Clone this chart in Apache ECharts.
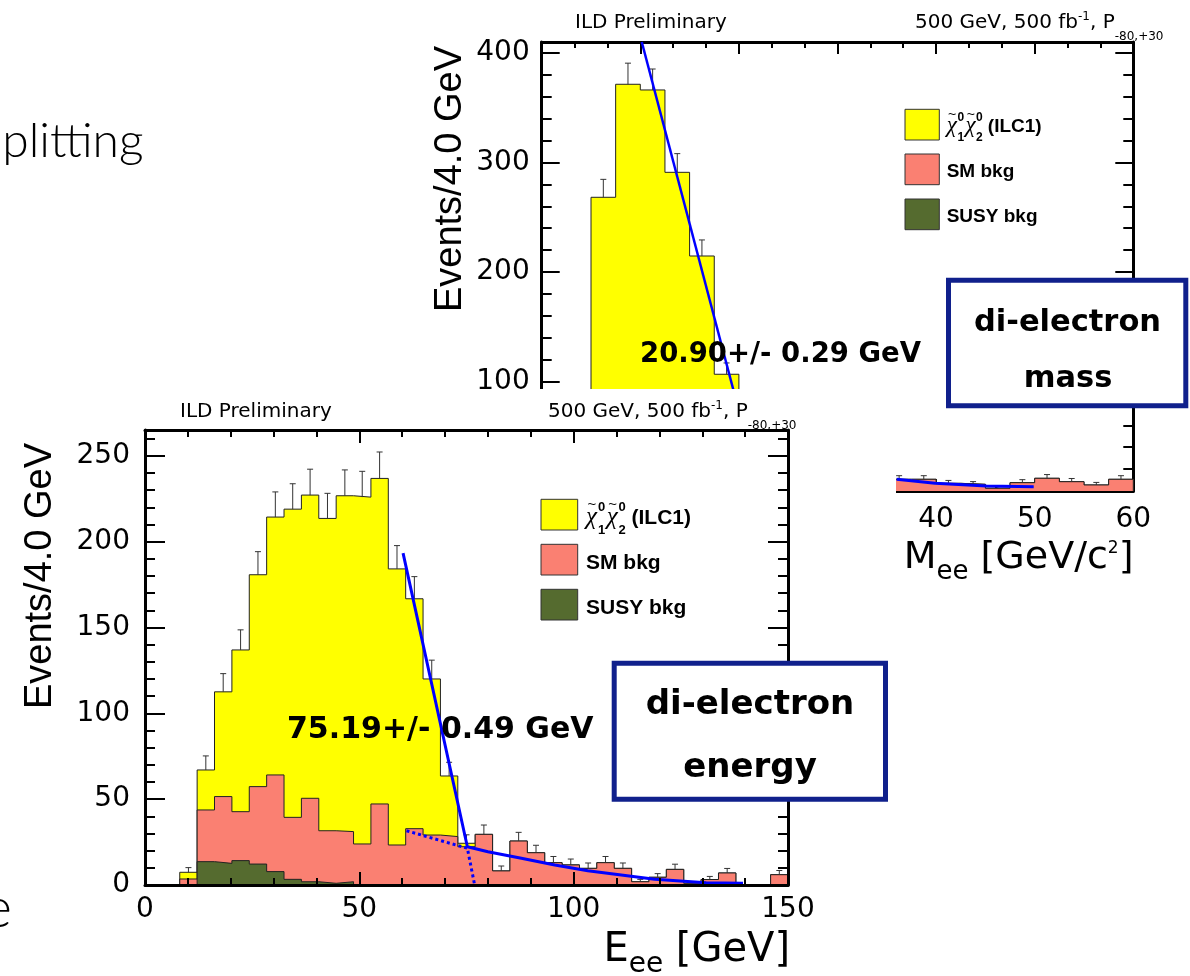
<!DOCTYPE html>
<html>
<head>
<meta charset="utf-8">
<script src="https://cdn.jsdelivr.net/npm/echarts@6/dist/echarts.min.js"></script>
<style>
  html, body { margin: 0; padding: 0; background: #ffffff; }
  #chart { width: 1190px; height: 976px; }
</style>
</head>
<body>
<div id="chart"></div>
<script>
// ---------------- di-electron energy: 37 bins over 0–150 GeV ----------------
const EE_MIN = 0, EE_MAX = 150, EE_NBINS = 37;
// cumulative stack heights per bin (signal+SM+SUSY, SM+SUSY, SUSY)
const eeStackTotal = [0, 0, 7.4, 67.0, 112.5, 136.9, 180.7, 214.3, 218.9, 227.1, 213.5, 226.7, 225.9,
  236.8, 184.1, 166.7, 120.0, 63.5, 24.3, 29.5, 8.2, 25.6, 18.8, 13.0, 11.7, 9.7, 13.0, 9.7, 1.9,
  4.5, 9.1, 1.0, 3.2, 7.0, 0, 0, 6.0];
const eeStackBkg = [0, 0, 3.5, 43.7, 51.5, 42.7, 57.3, 64.1, 39.4, 50.5, 31.6, 31.1, 23.9,
  47.2, 23.3, 32.8, 29.1, 28.2, 22.3, 29.5, 8.2, 25.6, 18.8, 13.0, 11.7, 9.7, 13.0, 9.7, 1.9,
  4.5, 9.1, 1.0, 3.2, 7.0, 0, 0, 6.0];
const eeStackSusy = [0, 0, 0, 13.6, 12.6, 14.2, 12.2, 7.8, 3.3, 1.9, 1.0, 1.9, 0,
  0, 0, 0, 0, 0, 0, 0, 0, 0, 0, 0, 0, 0, 0, 0, 0, 0, 0, 0, 0, 0, 0, 0, 0];
// edge fit: full function and its separate components
const eeFitCurve = [[60.2, 193.3], [75.2, 22.3], [80.0, 19.4], [87.8, 15.6], [95.6, 11.7],
  [103.3, 8.3], [111.1, 5.8], [118.9, 3.3], [130.9, 1.3], [139.5, 1.0]];
const eeFitParts = [[61.0, 31.6], [75.2, 21.4], [76.9, 0]];
const eeXTickStep = 50, eeYTickStep = 50, eeYMinorStep = 10, eeYMax = 265;

// ---------------- di-electron mass: 2.5 GeV bins over 0–60 GeV ----------------
const MEE_MIN = 0, MEE_MAX = 60, MEE_BIN = 2.5;
const meeStackTotal = [null, null, 268.2, 371.4, 366.2, 291.0, 214.6, 106.6,
  null, null, null, null, null, null,
  10.7, 10.7, 7.0, 6.1, 2.5, 7.6, 11.6, 8.5, 5.5, 10.7];
const meeStackBkg = [null, null, null, null, null, null, null, null,
  null, null, null, null, null, null,
  10.7, 10.7, 7.0, 6.1, 2.5, 7.6, 11.6, 8.5, 5.5, 10.7];
const meeFitEdge = [[10.15, 410], [19.45, 92]];
const meeFitTail = [[36.0, 10.7], [39.9, 7.0], [45.1, 4.6], [49.9, 3.9]];
const meeXTickStep = 10, meeYTickStep = 100, meeYMinorStep = 20, meeYMax = 410;

// ---------------- labels ----------------
const legendNames = ['SM bkg', 'SUSY bkg'];
const fillColors = ['#ffff00', '#fa8072', '#556b2f'];

const SANS = '"DejaVu Sans"';
const HELV = '"Liberation Sans"';
const BOLD = '"DejaVu Sans"';

// contiguous runs of a binned histogram turned into closed step outlines
function stepRuns(values, x0, width) {
  const runs = [];
  let cur = null;
  values.forEach((v, i) => {
    if (v == null) { cur = null; return; }
    if (!cur) { cur = [[x0 + i * width, 0]]; runs.push(cur); }
    cur.push([x0 + i * width, v]);
    if (i === values.length - 1 || values[i + 1] == null) {
      cur.push([x0 + (i + 1) * width, v]);
      cur.push([x0 + (i + 1) * width, 0]);
    }
  });
  return runs;
}

function histSeries(values, x0, width, color, xi, yi, z) {
  return stepRuns(values, x0, width).map(pts => ({
    type: 'line', xAxisIndex: xi, yAxisIndex: yi, data: pts, step: 'end',
    symbol: 'none', showSymbol: false, z, silent: true, animation: false,
    lineStyle: { color: '#222', width: 1 },
    areaStyle: { color, opacity: 1, origin: 'start' }
  }));
}

// Poisson uncertainty drawn above each bin top
function errorSeries(values, x0, width, xi, yi, z) {
  const data = [];
  values.forEach((v, i) => {
    if (v != null && v > 0) data.push([x0 + (i + 0.5) * width, v, Math.sqrt(v)]);
  });
  return {
    type: 'custom', xAxisIndex: xi, yAxisIndex: yi, z, silent: true, animation: false,
    encode: { x: 0, y: 1 }, data,
    renderItem(params, api) {
      const x = api.value(0), y = api.value(1), e = api.value(2);
      const p0 = api.coord([x, y]);
      const p1 = api.coord([x, y + e]);
      const st = { stroke: '#333', lineWidth: 1 };
      return {
        type: 'group', children: [
          { type: 'line', shape: { x1: p0[0], y1: p0[1], x2: p1[0], y2: p1[1] }, style: st },
          { type: 'line', shape: { x1: p1[0] - 3, y1: p1[1], x2: p1[0] + 3, y2: p1[1] }, style: st }
        ]
      };
    }
  };
}

function fitSeries(pts, xi, yi, z, width, dash) {
  return {
    type: 'line', xAxisIndex: xi, yAxisIndex: yi, data: pts, symbol: 'none', showSymbol: false,
    z, silent: true, animation: false, clip: true,
    lineStyle: { color: '#0000ff', width, type: dash || 'solid' }
  };
}

// ---------------- axes ----------------
const TICK = { color: '#000', width: 2 };
function xAxes(grid, min, max, step, zz, bottomMinorSplit, topMinorSplit, majorLen, minorLen, labelMargin) {
  const common = {
    type: 'value', gridIndex: grid, min, max, interval: step, z: zz,
    splitLine: { show: false },
    axisLine: { show: true, onZero: false, lineStyle: { color: '#000', width: 3 } },
    axisTick: { show: true, inside: true, length: majorLen, lineStyle: TICK }
  };
  return [
    Object.assign({}, common, {
      position: 'bottom',
      minorTick: { show: true, splitNumber: bottomMinorSplit, length: minorLen, lineStyle: TICK },
      axisLabel: { show: true, margin: labelMargin, color: '#000', fontSize: 28, fontFamily: SANS }
    }),
    Object.assign({}, common, {
      position: 'top',
      minorTick: { show: true, splitNumber: topMinorSplit, length: minorLen, lineStyle: TICK },
      axisLabel: { show: false }
    })
  ];
}

// frame sides with major ticks (left one labelled)
function yMajorAxes(grid, max, step, zz, len, labelMargin) {
  const base = { type: 'value', gridIndex: grid, min: 0, max, interval: step, z: zz, splitLine: { show: false },
    axisLine: { show: true, onZero: false, lineStyle: { color: '#000', width: 3 } },
    axisTick: { show: true, inside: true, length: len, lineStyle: TICK } };
  return [
    Object.assign({}, base, { position: 'left',
      axisLabel: { show: true, margin: labelMargin, color: '#000', fontSize: 28, fontFamily: SANS,
        formatter: v => (v % step === 0 ? String(v) : '') } }),
    Object.assign({}, base, { position: 'right', axisLabel: { show: false } })
  ];
}

// short ticks on both sides, on a twin grid of the same size
function yMinorAxes(grid, max, step, zz, len) {
  const base = { type: 'value', gridIndex: grid, min: 0, max, interval: step, z: zz, splitLine: { show: false },
    axisLine: { show: false }, axisLabel: { show: false },
    axisTick: { show: true, inside: true, length: len, lineStyle: TICK } };
  return [Object.assign({}, base, { position: 'left' }), Object.assign({}, base, { position: 'right' })];
}

function hiddenX(grid, min, max) {
  return { type: 'value', gridIndex: grid, min, max, show: false };
}

// ---------------- legend / text helpers ----------------
function legendBlock(boxX, boxW, boxH, boxTops, textX, rowY, fs, zz) {
  const els = [];
  boxTops.forEach((t, i) => {
    els.push({ type: 'rect', z: zz, silent: true,
      shape: { x: boxX, y: t, width: boxW, height: boxH },
      style: { fill: fillColors[i], stroke: '#333', lineWidth: 1 } });
  });
  const txt = (x, y, s, font, align) => ({ type: 'text', z: zz, silent: true,
    style: { x, y, text: s, font, fill: '#000', align: align || 'left', verticalAlign: 'middle',
      textAlign: align || 'left', textVerticalAlign: 'middle' } });
  const k = fs / 21;
  const y0 = rowY[0];
  const chiFont = `italic ${Math.round(25 * k)}px "Liberation Serif"`;
  const smallFont = `bold ${Math.round(13 * k)}px ${HELV}`;
  const tildeFont = `${Math.round(15 * k)}px ${HELV}`;
  [0, 20.7].forEach((dx, j) => {
    els.push(txt(textX + dx * k, y0 - 1 * k, 'χ', chiFont));
    els.push(txt(textX + (dx + 6) * k, y0 - 13 * k, '~', tildeFont, 'center'));
    els.push(txt(textX + (dx + 15.5) * k, y0 - 10.5 * k, '0', smallFont, 'center'));
    els.push(txt(textX + (dx + 15.5) * k, y0 + 12.5 * k, j === 0 ? '1' : '2', smallFont, 'center'));
  });
  els.push(txt(textX + 45.5 * k, y0, '(ILC1)', `bold ${fs}px ${HELV}`));
  legendNames.forEach((n, i) => els.push(txt(textX, rowY[i + 1], n, `bold ${fs}px ${HELV}`)));
  return els;
}

function label(x, y, s, font, align, zz, extra) {
  return Object.assign({ type: 'text', z: zz, silent: true,
    style: Object.assign({ x, y, text: s, font, fill: '#000', align: align || 'left', verticalAlign: 'middle',
      textAlign: align || 'left', textVerticalAlign: 'middle' }, (extra && extra.style) || {}) },
    extra && extra.el ? extra.el : {});
}

function richLabel(x, y, s, font, align, zz, rich) {
  return { type: 'text', z: zz, silent: true, style: { x, y, text: s, font, fill: '#000',
    align, verticalAlign: 'middle', textAlign: align, textVerticalAlign: 'middle', rich } };
}

function boxed(x, y, w, h, lines, font, zz) {
  const els = [{ type: 'rect', z: zz, silent: true, shape: { x, y, width: w, height: h },
    style: { fill: '#fff', stroke: '#10208c', lineWidth: 5 } }];
  lines.forEach(l => els.push(label(l[0], l[1], l[2], font, 'center', zz + 1)));
  return els;
}

const eeBinW = (EE_MAX - EE_MIN) / EE_NBINS;
const headerRich = {
  sup: { fontSize: 12, fontFamily: SANS, padding: [0, 0, 12, 0] },
  sub: { fontSize: 12, fontFamily: SANS, padding: [28, 0, 0, 0] }
};
const headerText = '500 GeV, 500 fb{sup|-1}, P{sub|-80,+30}';

const MEE_GRID = { left: 541.7, top: 42, width: 591.6, height: 449 };
const EE_GRID = { left: 145, top: 430, width: 643, height: 455 };

const option = {
  animation: false,
  backgroundColor: '#ffffff',
  grid: [MEE_GRID, EE_GRID, MEE_GRID, EE_GRID].map(g => Object.assign({ containLabel: false }, g)),
  xAxis: [].concat(
    xAxes(0, MEE_MIN, MEE_MAX, meeXTickStep, 1, 5, 3, 12, 6, 15),
    xAxes(1, EE_MIN, EE_MAX, eeXTickStep, 30, 5, 5, 13, 7, 11),
    [hiddenX(2, MEE_MIN, MEE_MAX), hiddenX(3, EE_MIN, EE_MAX)]
  ),
  yAxis: [].concat(
    yMajorAxes(0, meeYMax, meeYTickStep, 1, 18, 12),
    yMajorAxes(1, eeYMax, eeYTickStep, 30, 20, 15),
    yMinorAxes(2, meeYMax, meeYMinorStep, 1, 10),
    yMinorAxes(3, eeYMax, eeYMinorStep, 30, 10)
  ),
  series: [].concat(
    // M_ee panel (x 0 / y 0)
    histSeries(meeStackTotal, MEE_MIN, MEE_BIN, fillColors[0], 0, 0, 2),
    histSeries(meeStackBkg, MEE_MIN, MEE_BIN, fillColors[1], 0, 0, 3),
    [errorSeries(meeStackTotal, MEE_MIN, MEE_BIN, 0, 0, 4)],
    [fitSeries(meeFitEdge, 0, 0, 5, 2.5), fitSeries(meeFitTail, 0, 0, 5, 3)],
    // E_ee panel (x 2 / y 2)
    histSeries(eeStackTotal, EE_MIN, eeBinW, fillColors[0], 2, 2, 20),
    histSeries(eeStackBkg, EE_MIN, eeBinW, fillColors[1], 2, 2, 21),
    histSeries(eeStackSusy, EE_MIN, eeBinW, fillColors[2], 2, 2, 22),
    [errorSeries(eeStackTotal, EE_MIN, eeBinW, 2, 2, 23)],
    [fitSeries(eeFitCurve, 2, 2, 24, 3), fitSeries(eeFitParts, 2, 2, 24, 3, [3, 3])]
  ),
  graphic: [].concat(
    // slide text behind the figures
    [label(143.5, 142, 'plitting', '300 48px "Lato"', 'right', 0)],
    [label(12, 909, 'e', '300 56px "Lato"', 'right', 0)],
    // M_ee panel texts
    [label(575, 23.1, 'ILD Preliminary', `20px ${SANS}`, 'left', 6)],
    [richLabel(915, 23.1, headerText, `20px ${SANS}`, 'left', 6, headerRich)],
    [{ type: 'rect', z: 7, silent: true, shape: { x: 1164, y: 26, width: 26, height: 24 }, style: { fill: '#fff' } }],
    [label(451, 179, 'Events/4.0 GeV', `38px ${HELV}`, 'center', 6, { el: { x: 451, y: 179, rotation: Math.PI / 2 }, style: { x: 0, y: 0 } })],
    [richLabel(1133.5, 558.5, 'M{sub|ee} [GeV/c{sup|2}]', `38px ${SANS}`, 'right', 6,
      { sub: { fontSize: 26, fontFamily: SANS, padding: [27, 0, 0, 0] }, sup: { fontSize: 17, fontFamily: SANS, padding: [0, 0, 20, 0] } })],
    [label(640, 355, '20.90+/- 0.29 GeV', `bold 27.5px ${BOLD}`, 'left', 6)],
    legendBlock(905, 34.3, 30.7, [109.3, 154, 199], 946.7, [126.7, 171.7, 216.7], 19, 6),
    // the energy figure sits on top of the mass figure
    [{ type: 'rect', z: 10, silent: true, shape: { x: 14, y: 389, width: 882, height: 587 }, style: { fill: '#fff' } }],
    // E_ee panel texts
    [label(180, 411.4, 'ILD Preliminary', `20px ${SANS}`, 'left', 35)],
    [richLabel(548, 411.4, headerText, `20px ${SANS}`, 'left', 35, headerRich)],
    [label(41, 576, 'Events/4.0 GeV', `38px ${HELV}`, 'center', 35, { el: { x: 41, y: 576, rotation: Math.PI / 2 }, style: { x: 0, y: 0 } })],
    [richLabel(790, 951, 'E{sub|ee} [GeV]', `40px ${SANS}`, 'right', 35,
      { sub: { fontSize: 28, fontFamily: SANS, padding: [28, 0, 0, 0] } })],
    [label(287, 730.6, '75.19+/- 0.49 GeV', `bold 30px ${BOLD}`, 'left', 35)],
    legendBlock(541, 36.7, 30.7, [499.3, 544.3, 589.3], 586, [518.3, 563.3, 608.3], 21, 35),
    // annotation boxes
    boxed(614.2, 663.2, 271.3, 136, [[750, 705, 'di-electron'], [750, 768, 'energy']], `bold 34px ${BOLD}`, 40),
    boxed(948.5, 280.2, 237.3, 125.6, [[1067.5, 322.7, 'di-electron'], [1068, 379.4, 'mass']], `bold 30.5px ${BOLD}`, 40)
  )
};

const chart = echarts.init(document.getElementById('chart'), null, { renderer: 'canvas' });
chart.setOption(option);
</script>
</body>
</html>
